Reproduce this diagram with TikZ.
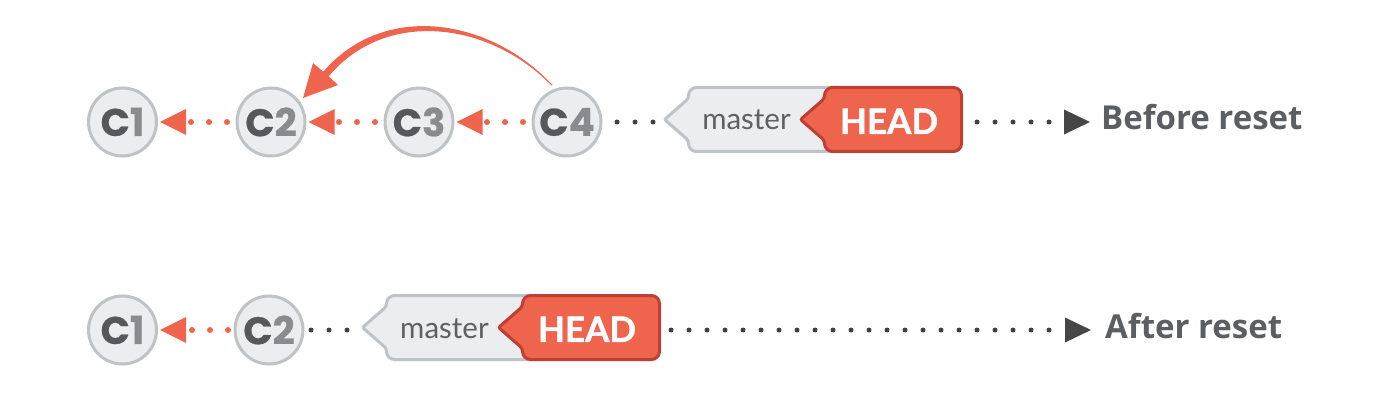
\documentclass[tikz,border=0pt]{standalone}
\usepackage{fontspec}
\usetikzlibrary{arrows.meta}
\newfontfamily\popfont{Poppins}[FakeBold=0.6]
\newfontfamily\latofont{Lato}
\newfontfamily\latoheavy{Lato}[FakeBold=1.2]
\newfontfamily\osfont{Open Sans}
\definecolor{cfill}{HTML}{EBEDF0}
\definecolor{cedge}{HTML}{BEC3C6}
\definecolor{cdark}{HTML}{55595D}
\definecolor{clight}{HTML}{888B8F}
\definecolor{gred}{HTML}{EE644D}
\definecolor{gredd}{HTML}{BE4034}
\definecolor{dotc}{HTML}{424242}
\definecolor{arrc}{HTML}{464646}
\definecolor{labc}{HTML}{5B5E62}
\definecolor{mtext}{HTML}{5F6063}
\newcommand\ctext[1]{{\color{cdark}C}{\color{clight}#1}}
\newcommand\tagshape[4]{%
  \draw[#1] (#2,#4-21) [rounded corners=2pt] -- (#2-24,#4) [rounded corners=3pt] -- (#2,#4+21)
    [rounded corners=8pt] -- (#2,#4+32) -- (#3,#4+32) -- (#3,#4-32) -- (#2,#4-32) [rounded corners=3pt] -- cycle;}
\begin{document}
\begin{tikzpicture}[x=1pt,y=-1pt,
  commit/.style={circle, draw=cedge, fill=cfill, line width=3pt, minimum size=68pt, inner sep=0pt,
    font=\popfont\bfseries\fontsize{38.5}{38.5}\selectfont},
  reddots/.style={draw=gred, line width=6pt, line cap=round, dash pattern=on 0pt off 18pt,
    -{Triangle[length=26pt,width=26pt,line width=0pt]}, shorten >=2pt},
  darkdots/.style={draw=dotc, line width=5pt, line cap=round, dash pattern=on 0pt off 18pt},
  darkarrow/.style={darkdots, -{Triangle[length=26pt,width=25pt,line width=0pt,color=arrc]}},
  mastertag/.style={draw=cedge, fill=cfill, line width=3pt},
  headtag/.style={draw=gredd, fill=gred, line width=3pt},
  mastertext/.style={font=\latofont\fontsize{29.5}{30}\selectfont, text=mtext, inner sep=0pt, anchor=base},
  headtext/.style={font=\latoheavy\bfseries\fontsize{35}{35}\selectfont, text=white, inner sep=0pt,
    minimum width=140pt, minimum height=67pt, outer sep=0pt},
  labeltext/.style={font=\osfont\bfseries\fontsize{33}{33}\selectfont, text=labc, inner sep=0pt, anchor=base west},
  curvearrow/.style={fill=gred}
]
\useasboundingbox (0,0) rectangle (1380,395);

% ---------- top row: before reset ----------
\node[commit] (c1) at (122.5,122) {\ctext{1}};
\node[commit] (c2) at (271,122) {\ctext{2}};
\node[commit] (c3) at (419,122) {\ctext{3}};
\node[commit] (c4) at (567,122) {\ctext{4}};

\tagshape{mastertag}{688.5}{845}{119.5}
\tagshape{headtag}{824.5}{961.5}{119.5}
\node[mastertext] (m1) at (746.5,130) {master};
\node[headtext] (head1) at (893,122) {\raisebox{1.5pt}{HEAD\hspace*{8pt}}};
\coordinate (m1tip) at (664.5,122);
\node[labeltext] (lb1) at (1101,130) {Before reset};

\draw[reddots, dash phase=9.5pt] (c2) -- (c1);
\draw[reddots, dash phase=9.5pt] (c3) -- (c2);
\draw[reddots, dash phase=9.5pt] (c4) -- (c3);
\draw[darkdots, dash phase=3.5pt] (c4) -- (m1tip);
\draw[darkarrow, dash phase=4pt, shorten >=11pt] (head1.east) -- (lb1.west |- head1.east);

% curved reset arrow from C4 to C2
\fill[curvearrow] (552.5,85) .. controls (490,18) and (384,1) .. (323.3,71.7)
  -- (313,63) -- (303,98) -- (338,85) -- (328.7,76.3)
  .. controls (386,8) and (490,22) .. (551.5,85.5) -- cycle;

% ---------- bottom row: after reset ----------
\node[commit] (d1) at (122.5,330) {\ctext{1}};
\node[commit] (d2) at (269,330) {\ctext{2}};

\tagshape{mastertag}{386.5}{545}{327.5}
\tagshape{headtag}{522.5}{659.5}{327.5}
\node[mastertext] (m2) at (444.5,338) {master};
\node[headtext] (head2) at (591,330) {\raisebox{1.5pt}{HEAD\hspace*{8pt}}};
\coordinate (m2tip) at (362.5,330);
\node[labeltext] (lb2) at (1105,338) {After reset};

\draw[reddots, dash phase=12.5pt] (d2) -- (d1);
\draw[darkdots, dash phase=11.5pt] (d2) -- (m2tip);
\draw[darkarrow, dash phase=8pt, shorten >=14pt] (head2.east) -- (lb2.west |- head2.east);
\end{tikzpicture}
\end{document}
